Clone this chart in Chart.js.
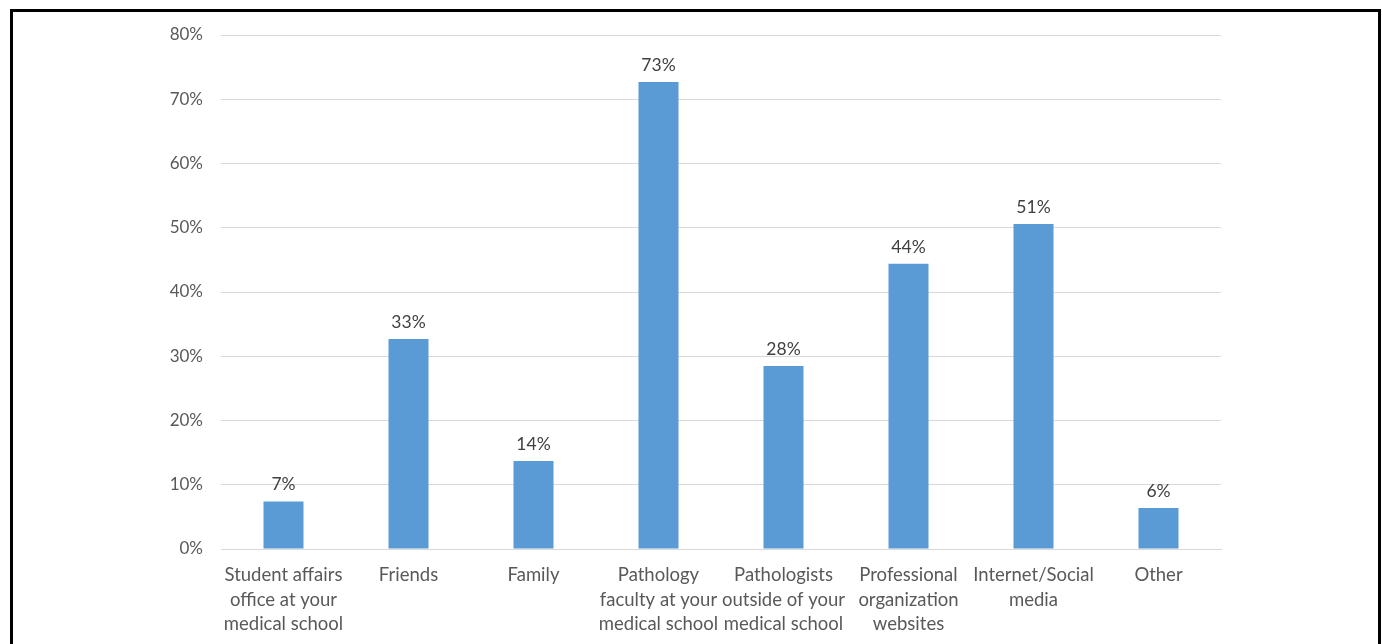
<!DOCTYPE html>
<html>
  <head>
    <title>Sources</title>
    <script src="https://cdn.jsdelivr.net/npm/chart.js"></script>
    <style>
      body { margin: 0; background: #fff; overflow: hidden; }
      .frame { position: absolute; left: 10px; top: 9px; width: 1365px; height: 700px; border: 3px solid #000; }
      .chartframe { position: absolute; left: 0; top: 0; width: 1382px; height: 644px; }
    </style>
  </head>
  <body>
    <div class="frame"></div>
    <div class="chartframe">
      <canvas id="myChart" width="1382" height="644"></canvas>
    </div>
  </body>
</html>
<script>
//------------------------------------------------------------------------------
// data
//------------------------------------------------------------------------------
var categories = [
  ['Student affairs', 'office at your', 'medical school'],
  'Friends',
  'Family',
  ['Pathology', 'faculty at your', 'medical school'],
  ['Pathologists', 'outside of your', 'medical school'],
  ['Professional', 'organization', 'websites'],
  ['Internet/Social', 'media'],
  'Other'
];
var percentValues = [7.4, 32.7, 13.7, 72.7, 28.5, 44.4, 50.6, 6.4];
var barLabels = ['7%', '33%', '14%', '73%', '28%', '44%', '51%', '6%'];
var yTicks = [0, 10, 20, 30, 40, 50, 60, 70, 80];

//------------------------------------------------------------------------------
// value labels above bars
//------------------------------------------------------------------------------
var barLabelPlugin = {
  id: 'barLabels',
  afterDatasetsDraw: function(chart) {
    var ctx = chart.ctx;
    var meta = chart.getDatasetMeta(0);
    ctx.save();
    ctx.font = '17.5px Lato, "Open Sans", sans-serif';
    ctx.fillStyle = '#404040';
    ctx.textAlign = 'center';
    ctx.textBaseline = 'bottom';
    meta.data.forEach(function(bar, i) {
      ctx.fillText(barLabels[i], bar.x, bar.y - 8);
    });
    ctx.restore();
  }
};

//------------------------------------------------------------------------------
// chart
//------------------------------------------------------------------------------
var ctx = document.getElementById('myChart').getContext('2d');
var chart = new Chart(ctx, {
  type: 'bar',
  data: {
    labels: categories,
    datasets: [{
      data: percentValues,
      backgroundColor: '#5b9bd5',
      borderWidth: 0,
      barPercentage: 0.64,
      categoryPercentage: 0.5
    }]
  },
  options: {
    responsive: false,
    animation: false,
    layout: { padding: { left: 150, right: 161, top: 35, bottom: 0 } },
    plugins: { legend: { display: false }, tooltip: { enabled: false } },
    scales: {
      x: {
        grid: { display: false, drawTicks: false },
        border: { display: true, color: '#d9d9d9', width: 1 },
        ticks: {
          color: '#595959',
          font: { family: 'Lato, "Open Sans", sans-serif', size: 18.5, lineHeight: 1.33 },
          padding: 14,
          maxRotation: 0,
          autoSkip: false
        },
        afterFit: function(scale) { scale.height = 95; }
      },
      y: {
        min: 0,
        max: 80,
        afterBuildTicks: function(scale) {
          scale.ticks = yTicks.map(function(v) { return { value: v }; });
        },
        grid: { color: '#d9d9d9', lineWidth: 1, drawTicks: false },
        border: { display: false },
        ticks: {
          color: '#595959',
          font: { family: 'Lato, "Open Sans", sans-serif', size: 17 },
          padding: 18,
          callback: function(v) { return v + '%'; }
        },
        afterFit: function(scale) { scale.width = 71; }
      }
    }
  },
  plugins: [barLabelPlugin]
});
</script>
